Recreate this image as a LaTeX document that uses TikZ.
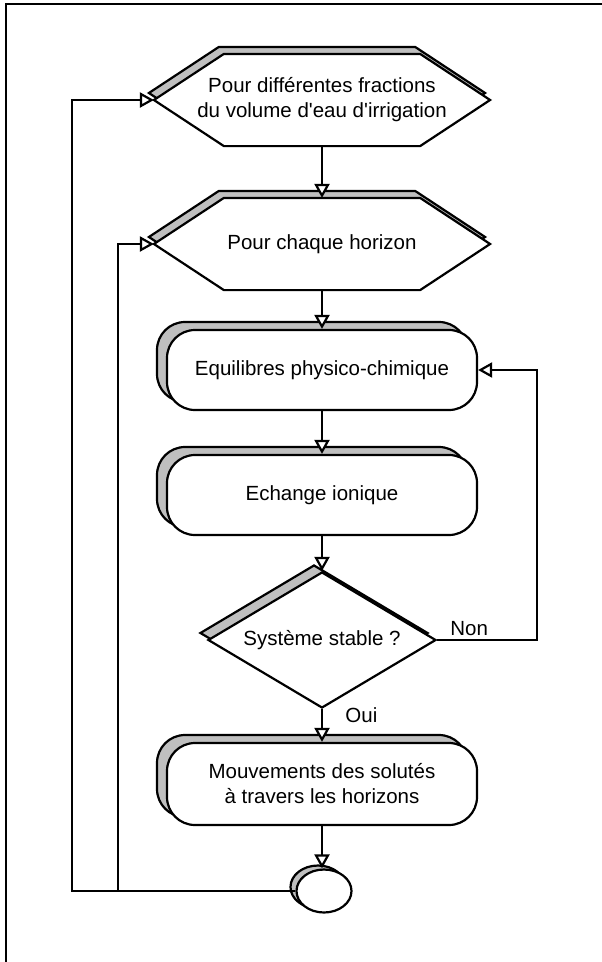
\documentclass[tikz,border=0pt]{standalone}
\usepackage{fontspec}
\setmainfont{Liberation Sans}
\usetikzlibrary{arrows.meta,shapes.geometric,shadows}
\definecolor{shadowgray}{gray}{0.75}

\begin{document}
\begin{tikzpicture}[x=1pt,y=-1pt,line width=2.2pt,
  txt/.style={font=\fontsize{20.5}{25}\selectfont,align=center},
  hexbox/.style={txt,inner sep=0pt,minimum width=334pt,minimum height=90pt},
  procbox/.style={txt,draw,fill=white,rounded corners=28pt,minimum width=310pt,minimum height=80pt,
    copy shadow={shadow xshift=-10pt,shadow yshift=8pt,fill=shadowgray,draw=black,opacity=1}},
  testbox/.style={txt,diamond,draw,fill=white,inner sep=0pt,aspect=1.68,minimum width=228pt,minimum height=136pt,
    copy shadow={shadow xshift=-8pt,shadow yshift=7pt,fill=shadowgray,draw=black,opacity=1}},
  endbox/.style={ellipse,draw,fill=white,minimum width=55pt,minimum height=43pt,
    copy shadow={shadow xshift=-6pt,shadow yshift=4pt,fill=shadowgray,draw=black,opacity=1}},
  flow/.style={-{Triangle[fill=white,length=14pt,width=15pt]}}]
\useasboundingbox (0,0) rectangle (602,962);
\draw[line width=2.6pt] (6,962) -- (6,4) -- (602,4);

% loops
\node[hexbox] (h1) at (322,100) {};
\node[hexbox] (h2) at (322,244) {};
\foreach \h in {h1,h2} {
  \fill[shadowgray,draw=black,transform canvas={shift={(-5,-7)}}] (\h.west) -- ([xshift=70pt]\h.north west) -- ([xshift=-70pt]\h.north east)
    -- (\h.east) -- ([xshift=-70pt]\h.south east) -- ([xshift=70pt]\h.south west) -- cycle;
  \draw[fill=white] (\h.west) -- ([xshift=70pt]\h.north west) -- ([xshift=-70pt]\h.north east)
    -- (\h.east) -- ([xshift=-70pt]\h.south east) -- ([xshift=70pt]\h.south west) -- cycle;
}
\node[txt] (h1t) at (h1) {Pour différentes fractions\\du volume d\textquotesingle eau d\textquotesingle irrigation};
\node[txt] (h2t) at (h2) {Pour chaque horizon};

% steps
\node[procbox] (b1) at (322,370) {Equilibres physico-chimique};
\node[procbox] (b2) at (322,495) {Echange ionique};
\node[testbox] (d) at (322,640) {Système stable ?};
\node[procbox,minimum height=82pt] (b3) at (322,784) {Mouvements des solutés\\à travers les horizons};
\node[endbox] (e) at (324,891) {};

\coordinate (outer) at (72,891);
\coordinate (inner) at (118,891);

\draw[flow] (h1.south) -- (h2.north);
\draw[flow] (h2.south) -- (b1.north);
\draw[flow] (b1.south) -- (b2.north);
\draw[flow] (b2.south) -- (d.north);
\draw[flow] (d.south) -- node[txt,right=19pt,pos=.2] {Oui} (b3.north);
\draw[flow] (b3.south) -- (b3.south |- e.north);
\draw[flow] (d.east) -- node[txt,above,pos=.32] {Non} ++(100,0) |- (b1.east);
\draw[flow] (e.west) -- (outer) |- (h1.west);
\draw[flow] (inner) |- (h2.west);
\end{tikzpicture}
\end{document}
